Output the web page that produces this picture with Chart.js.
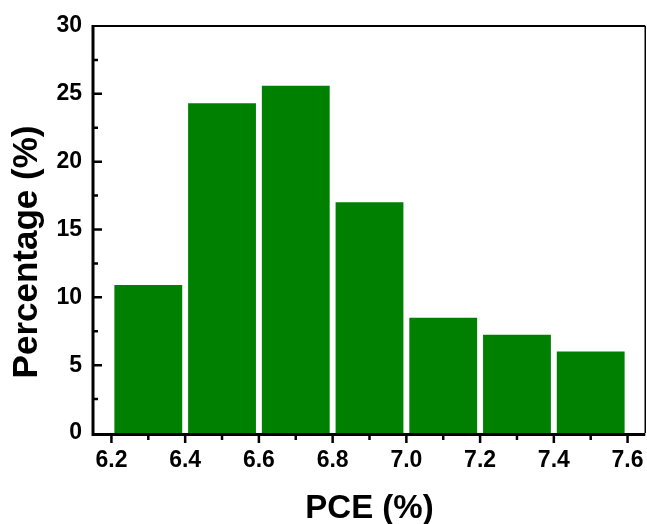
<!DOCTYPE html>
<html>
<head>
<meta charset="utf-8">
<script src="https://cdn.jsdelivr.net/npm/chart.js@4.4.1/dist/chart.umd.min.js"></script>
<style>
  html, body { margin: 0; padding: 0; background: #fff; }
  #wrap { width: 647px; height: 524px; }
</style>
</head>
<body>
<div id="wrap"><canvas id="chart-pce"></canvas></div>
<script>
  // PCE histogram data
  const binCenters = [6.3, 6.5, 6.7, 6.9, 7.1, 7.3, 7.5];
  const percentages = [10.9, 24.3, 25.6, 17.0, 8.5, 7.25, 6.0];
  const xTicks = [6.2, 6.4, 6.6, 6.8, 7.0, 7.2, 7.4, 7.6];
  const yTicks = [0, 5, 10, 15, 20, 25, 30];
  const xTitle = 'PCE (%)';
  const yTitle = 'Percentage (%)';

  const FONT = "'Liberation Sans', Arial, sans-serif";

  // midpoints between major ticks
  function minorOf(ticks) {
    const out = [];
    for (let i = 0; i < ticks.length - 1; i++) out.push((ticks[i] + ticks[i + 1]) / 2);
    return out;
  }

  // axes frame, ticks and axis titles
  const frame = {
    id: 'frame',
    afterDatasetsDraw(chart) {
      const { ctx, chartArea: a, scales: { x, y } } = chart;
      ctx.save();
      ctx.strokeStyle = '#000';

      // top + right thin border
      ctx.lineWidth = 2;
      ctx.beginPath();
      ctx.moveTo(a.left, a.top);
      ctx.lineTo(a.right - 0.75, a.top);
      ctx.stroke();
      ctx.lineWidth = 1.5;
      ctx.beginPath();
      ctx.moveTo(a.right - 0.75, a.top);
      ctx.lineTo(a.right - 0.75, a.bottom);
      ctx.stroke();

      // left + bottom thick axes
      ctx.lineWidth = 3;
      ctx.beginPath();
      ctx.moveTo(a.left, a.top - 1);
      ctx.lineTo(a.left, a.bottom + 1.5);
      ctx.lineTo(a.right - 0.75, a.bottom + 1.5);
      ctx.stroke();

      // x ticks (outward)
      ctx.lineWidth = 2.5;
      ctx.beginPath();
      xTicks.forEach(v => {
        const px = x.getPixelForValue(v);
        ctx.moveTo(px, a.bottom); ctx.lineTo(px, a.bottom + 10);
      });
      minorOf(xTicks).forEach(v => {
        const px = x.getPixelForValue(v);
        ctx.moveTo(px, a.bottom); ctx.lineTo(px, a.bottom + 7);
      });
      // y ticks (inward)
      yTicks.slice(1, -1).forEach(v => {
        const py = y.getPixelForValue(v);
        ctx.moveTo(a.left, py); ctx.lineTo(a.left + 9, py);
      });
      minorOf(yTicks).forEach(v => {
        const py = y.getPixelForValue(v);
        ctx.moveTo(a.left, py); ctx.lineTo(a.left + 5, py);
      });
      ctx.stroke();

      // axis titles
      ctx.fillStyle = '#000';
      ctx.textAlign = 'center';
      ctx.textBaseline = 'alphabetic';
      ctx.font = 'bold 33px ' + FONT;
      ctx.fillText(xTitle, (a.left + a.right) / 2, 518);
      ctx.font = 'bold 35px ' + FONT;
      ctx.translate(37, 252);
      ctx.rotate(-Math.PI / 2);
      ctx.fillText(yTitle, 0, 0);
      ctx.restore();
    }
  };

  new Chart(document.getElementById('chart-pce'), {
    type: 'bar',
    data: {
      datasets: [{
        data: binCenters.map((c, i) => ({ x: c, y: percentages[i] })),
        backgroundColor: '#008000',
        borderWidth: 0,
        barPercentage: 0.92,
        categoryPercentage: 1
      }]
    },
    options: {
      responsive: true,
      maintainAspectRatio: false,
      animation: false,
      events: [],
      layout: { padding: { top: 26, right: 1, left: 0, bottom: 0 } },
      plugins: {
        legend: { display: false },
        tooltip: { enabled: false }
      },
      scales: {
        x: {
          type: 'linear',
          min: 6.15,
          max: 7.65,
          offset: false,
          grid: { display: false, drawTicks: false },
          border: { display: false },
          afterBuildTicks: s => { s.ticks = xTicks.map(v => ({ value: v })); },
          afterFit: s => { s.height = 91; s.paddingLeft = 0; s.paddingRight = 0; },
          ticks: {
            padding: 14,
            maxRotation: 0,
            autoSkip: false,
            color: '#000',
            font: { family: FONT, size: 23, weight: 'bold' },
            callback: v => v.toFixed(1)
          }
        },
        y: {
          min: 0,
          max: 30,
          grid: { display: false, drawTicks: false },
          border: { display: false },
          afterBuildTicks: s => { s.ticks = yTicks.map(v => ({ value: v })); },
          afterFit: s => { s.width = 93; s.paddingTop = 0; s.paddingBottom = 0; },
          ticks: {
            padding: 11,
            color: '#000',
            font: { family: FONT, size: 23, weight: 'bold' }
          }
        }
      }
    },
    plugins: [frame]
  });
</script>
</body>
</html>
